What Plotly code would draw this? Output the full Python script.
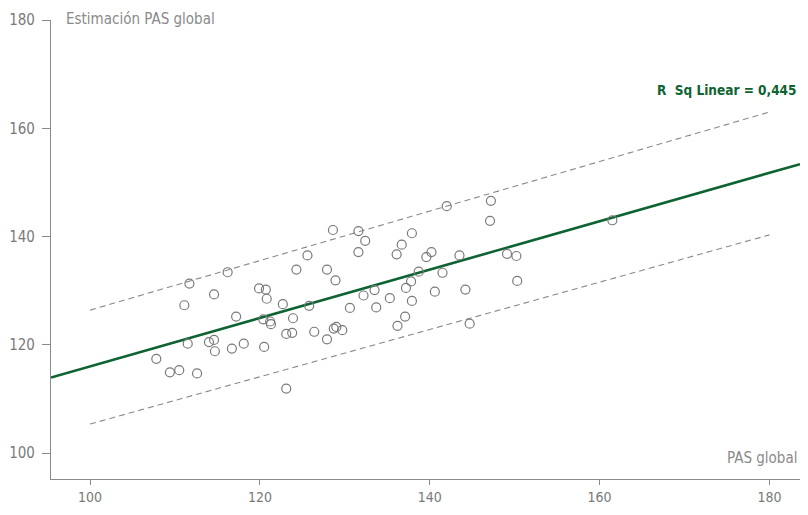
import plotly.graph_objects as go

# Observed data (PAS global vs Estimación PAS global)
pas_global = [128.6, 125.6, 124.3, 127.9, 116.2, 111.7, 114.6, 119.9, 120.7, 120.8,
              111.1, 122.7, 125.8, 117.2, 120.4, 121.2, 121.3, 123.9, 123.1, 123.8,
              126.4, 127.9, 114.6, 114.0, 111.5, 114.7, 116.7, 118.1, 120.5, 107.8,
              109.4, 110.5, 112.6, 123.1, 131.6, 142.0, 147.2, 147.1, 137.9, 132.4,
              131.6, 136.7, 136.1, 139.6, 140.2, 143.5, 149.1, 150.2, 128.9, 138.7,
              141.5, 137.8, 137.2, 150.3, 133.5, 132.2, 135.3, 140.6, 144.2, 130.6,
              133.7, 137.9, 137.1, 136.2, 128.7, 129.0, 129.7, 144.7, 161.5]
estimacion = [141.2, 136.5, 133.9, 133.9, 133.4, 131.3, 129.3, 130.4, 130.2, 128.5,
              127.3, 127.5, 127.2, 125.2, 124.7, 124.3, 123.8, 124.9, 122.0, 122.2,
              122.4, 121.0, 120.9, 120.5, 120.2, 118.8, 119.3, 120.2, 119.6, 117.4,
              114.9, 115.3, 114.7, 111.9, 141.0, 145.6, 146.6, 142.9, 140.6, 139.2,
              137.1, 138.5, 136.7, 136.2, 137.1, 136.5, 136.8, 136.4, 131.9, 133.5,
              133.3, 131.7, 130.5, 131.8, 130.1, 129.1, 128.6, 129.8, 130.2, 126.8,
              126.9, 128.1, 125.2, 123.5, 123.0, 123.3, 122.7, 123.9, 143.0]

X_RANGE = [95.4, 183.6]
Y_RANGE = [95.2, 180]

# Fit line
fit_intercept = 71.3
fit_slope = 0.447
fit_x = list(X_RANGE)
fit_y = [fit_intercept + fit_slope * v for v in fit_x]

# Prediction interval lines
pi_x = [100, 180]
pi_upper = [126.4, 163.0]
pi_lower = [105.35, 140.3]

x_ticks = [100, 120, 140, 160, 180]
y_ticks = [100, 120, 140, 160, 180]

FONT = "DejaVu Sans Condensed, Liberation Sans Narrow, Roboto, sans-serif"
GRAY = "#8a8a8a"
GREEN = "#0e6332"

fig = go.Figure()
fig.add_trace(go.Scatter(x=pi_x, y=pi_upper, mode="lines",
                         line=dict(color="#8a8a8a", width=1.1, dash="6px,4px"),
                         hoverinfo="skip", showlegend=False))
fig.add_trace(go.Scatter(x=pi_x, y=pi_lower, mode="lines",
                         line=dict(color="#8a8a8a", width=1.1, dash="6px,4px"),
                         hoverinfo="skip", showlegend=False))
fig.add_trace(go.Scatter(x=fit_x, y=fit_y, mode="lines",
                         line=dict(color=GREEN, width=2.6),
                         showlegend=False))
fig.add_trace(go.Scatter(x=pas_global, y=estimacion, mode="markers",
                         marker=dict(symbol="circle-open", size=9,
                                     color="#7a7a7a", line=dict(width=1.2, color="#7a7a7a")),
                         showlegend=False))

axis_common = dict(showgrid=False, zeroline=False, showline=True, automargin=False,
                   linecolor=GRAY, linewidth=1.2, ticks="outside",
                   tickcolor=GRAY, tickwidth=1.2)

# The page body has an 8px margin; the figure is sized to fit without scrollbars.
fig.update_layout(
    width=792, height=499,
    margin=dict(l=43, r=0, t=12, b=28),
    plot_bgcolor="white", paper_bgcolor="white",
    xaxis=dict(range=X_RANGE, tickvals=x_ticks, ticklen=5,
               ticklabelstandoff=0,
               tickfont=dict(family=FONT, size=14, color="#7a7a7a"), **axis_common),
    yaxis=dict(range=Y_RANGE, tickvals=y_ticks, ticklen=8,
               ticklabelstandoff=4,
               tickfont=dict(family=FONT, size=15, color="#7a7a7a"), **axis_common),
    annotations=[
        dict(text="Estimación PAS global", xref="paper", yref="paper",
             x=0.018, y=1.0, xanchor="left", yanchor="middle", yshift=1,
             showarrow=False, font=dict(family=FONT, size=15, color=GRAY)),
        dict(text="R\u00a0 Sq Linear = 0,445", xref="paper", yref="y",
             x=1.0, y=167.1, xanchor="right", yanchor="middle", xshift=-1,
             showarrow=False, font=dict(family=FONT, size=13.5, color=GREEN, weight="bold")),
        dict(text="PAS global", xref="paper", yref="y",
             x=1.0, y=99.1, xanchor="right", yanchor="middle", xshift=-1,
             showarrow=False, font=dict(family=FONT, size=15, color=GRAY)),
    ],
)

fig.write_html("out.html")
